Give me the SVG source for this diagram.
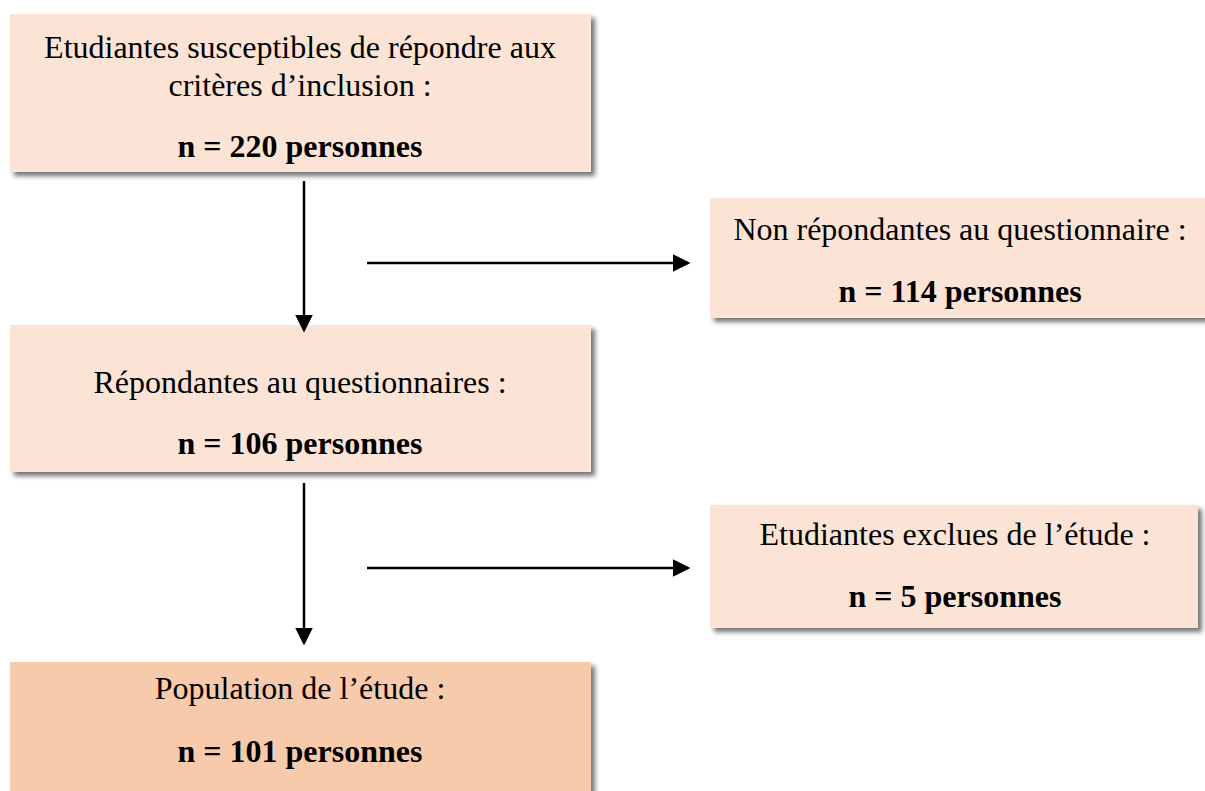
<svg xmlns="http://www.w3.org/2000/svg" width="1205" height="791" viewBox="0 0 1205 791">
<style>
.box{fill:#FBE4D5;filter:url(#sh)}
.box2{fill:#F7CAAC;filter:url(#sh)}
text{font-family:"Liberation Serif","Times New Roman",serif;font-size:32px;fill:#000;text-anchor:middle}
.b{font-weight:bold}
.ln{stroke:#000;stroke-width:2.5;fill:none;marker-end:url(#ah)}
</style>
<defs>
<filter id="sh" x="-5%" y="-10%" width="115%" height="130%">
<feGaussianBlur in="SourceAlpha" stdDeviation="2.5"/>
<feOffset dx="4" dy="4" result="o"/>
<feComponentTransfer><feFuncA type="linear" slope="0.55"/></feComponentTransfer>
<feMerge><feMergeNode/><feMergeNode in="SourceGraphic"/></feMerge>
</filter>
<marker id="ah" markerWidth="7" markerHeight="7" refX="6" refY="3.5" orient="auto" markerUnits="strokeWidth">
<path d="M0,0 L7,3.5 L0,7 Z" fill="#000"/>
</marker>
</defs>
<g id="n1"><rect class="box" x="10" y="14" width="581" height="158"/>
<text x="300" y="58">Etudiantes susceptibles de répondre aux</text>
<text x="300" y="96">critères d’inclusion :</text>
<text class="b" x="300" y="157">n = 220 personnes</text></g>
<g id="n2"><rect class="box" x="710" y="198" width="500" height="120"/>
<text x="960" y="240">Non répondantes au questionnaire :</text>
<text class="b" x="960" y="302">n = 114 personnes</text></g>
<g id="n3"><rect class="box" x="10" y="325" width="581" height="147"/>
<text x="300" y="393">Répondantes au questionnaires :</text>
<text class="b" x="300" y="454">n = 106 personnes</text></g>
<g id="n4"><rect class="box" x="710" y="505" width="488" height="123"/>
<text x="955" y="545">Etudiantes exclues de l’étude :</text>
<text class="b" x="955" y="607">n = 5 personnes</text></g>
<g id="n5"><rect class="box2" x="10" y="662" width="581" height="140"/>
<text x="300" y="699">Population de l’étude :</text>
<text class="b" x="300" y="762">n = 101 personnes</text></g>
<g id="connectors">
<line class="ln" x1="304" y1="181" x2="304" y2="330"/>
<line class="ln" x1="367" y1="263" x2="688" y2="263"/>
<line class="ln" x1="304" y1="483" x2="304" y2="643"/>
<line class="ln" x1="367" y1="568" x2="688" y2="568"/>
</g>
</svg>
